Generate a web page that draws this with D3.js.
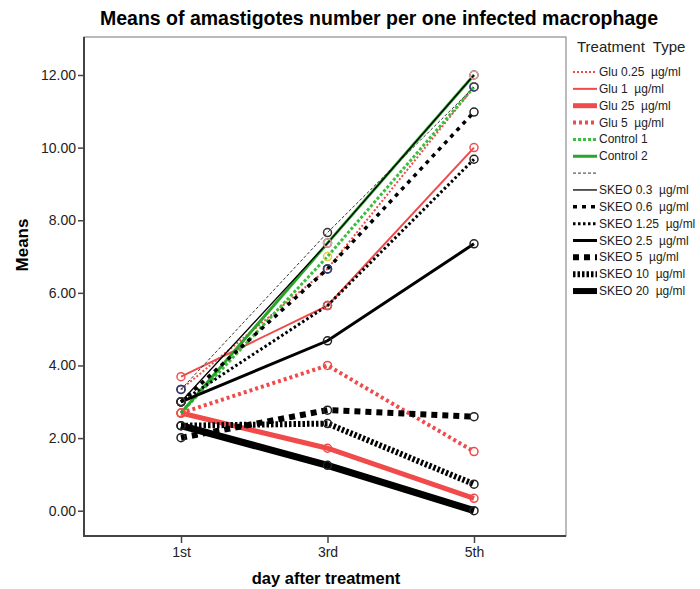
<!DOCTYPE html>
<html><head><meta charset="utf-8">
<script src="https://cdn.jsdelivr.net/npm/d3@7/dist/d3.min.js"></script>
<style>body{margin:0;background:#fff}svg{display:block;font-family:"Liberation Sans",Arial,sans-serif}text{white-space:pre}</style>
</head><body><svg id="c" width="700" height="589"></svg>
<script>
const days = ["1st", "3rd", "5th"];
const yTicks = [0, 2, 4, 6, 8, 10, 12];
const seriesNames = ["Glu 0.25  µg/ml","Glu 1  µg/ml","Glu 25  µg/ml","Glu 5  µg/ml","Control 1","Control 2","","SKEO 0.3  µg/ml","SKEO 0.6  µg/ml","SKEO 1.25  µg/ml","SKEO 2.5  µg/ml","SKEO 5  µg/ml","SKEO 10  µg/ml","SKEO 20  µg/ml"];
const glu025 = [3.34, 6.66, 11.67];
const glu1 = [3.69, 5.65, 10.0];
const glu25 = [2.69, 1.72, 0.34];
const glu5 = [2.69, 4.0, 1.63];
const control1 = [2.69, 7.0, 11.67];
const control2 = [2.69, 7.37, 12.0];
const blank = [3.34, 7.66, 11.67];
const skeo03 = [3.0, 7.37, 12.0];
const skeo06 = [3.0, 6.66, 10.98];
const skeo125 = [3.0, 5.65, 9.68];
const skeo25 = [3.0, 4.68, 7.35];
const skeo5 = [2.01, 2.77, 2.59];
const skeo10 = [2.34, 2.4, 0.73];
const skeo20 = [2.34, 1.25, 0.0];
const values = [glu025, glu1, glu25, glu5, control1, control2, blank, skeo03, skeo06, skeo125, skeo25, skeo5, skeo10, skeo20];

const styles = [
  {c:"#f04a4a", w:2, d:"2,2", m:"#2c3a80"},
  {c:"#f04a4a", w:2, d:null, m:"#f05050"},
  {c:"#f04a4a", w:5, d:null, m:"#f04a4a"},
  {c:"#f04a4a", w:4, d:"3,3", m:"#f04a4a"},
  {c:"#3cbf3c", w:3, d:"3,2", m:"#e0d040"},
  {c:"#2aa52a", w:3, d:null, m:"#f0a0a8"},
  {c:"#333", w:1, d:"3,2", m:"#333"},
  {c:"#000", w:1.3, d:null, m:"#333"},
  {c:"#000", w:3.5, d:"4,5", m:"#222"},
  {c:"#000", w:3, d:"2.5,2.5", m:"#222"},
  {c:"#000", w:3, d:null, m:"#222"},
  {c:"#000", w:6, d:"6,5", m:"#222"},
  {c:"#000", w:6, d:"2.5,2", m:"#222"},
  {c:"#000", w:7, d:null, m:"#222"}
];

const svg = d3.select("#c");
const L = 84, R = 566, T = 37, B = 536;
const x = d3.scalePoint().domain(days).range([181, 474]);
const y = d3.scaleLinear().domain([0, 12]).range([510.7, 75]);

svg.append("rect").attr("x", L).attr("y", T).attr("width", R - L).attr("height", B - T)
  .attr("fill", "none").attr("stroke", "#777").attr("stroke-width", 1);

const line = d3.line().x((d, i) => x(days[i])).y(d => y(d));
const g = svg.append("g");
values.forEach((v, i) => {
  const s = styles[i];
  g.append("path").attr("d", line(v)).attr("fill", "none").attr("stroke", s.c)
    .attr("stroke-width", s.w).attr("stroke-dasharray", s.d);
});
d3.range(values.length - 1, -1, -1).forEach(i => {
  const s = styles[i];
  g.selectAll(null).data(values[i]).enter().append("circle")
    .attr("cx", (d, j) => x(days[j])).attr("cy", d => y(d)).attr("r", 4)
    .attr("fill", "none").attr("stroke", s.m).attr("stroke-width", 1.5);
});

const ya = svg.append("g").attr("transform", `translate(${L},0)`)
  .call(d3.axisLeft(y).tickValues(yTicks).tickFormat(d3.format(".2f")).tickSize(6).tickPadding(2));
ya.select(".domain").remove();
ya.append("line").attr("x1", 0).attr("x2", 0).attr("y1", T).attr("y2", B).attr("stroke", "#444").attr("stroke-width", 2);
ya.selectAll(".tick line").attr("stroke", "#444").attr("stroke-width", 1.5);
ya.selectAll(".tick text").attr("font-size", 14).attr("fill", "#222").attr("font-family", "Liberation Sans, Arial, sans-serif");

const xa = svg.append("g").attr("transform", `translate(0,${B})`)
  .call(d3.axisBottom(x).tickSize(7).tickPadding(4));
xa.select(".domain").remove();
xa.append("line").attr("x1", L - 1).attr("x2", R).attr("y1", 0).attr("y2", 0).attr("stroke", "#444").attr("stroke-width", 2);
xa.selectAll(".tick line").attr("stroke", "#444").attr("stroke-width", 1.5);
xa.selectAll(".tick text").attr("font-size", 14).attr("fill", "#222").attr("font-family", "Liberation Sans, Arial, sans-serif");

svg.append("text").attr("x", 379).attr("y", 25).attr("text-anchor", "middle")
  .attr("font-size", 19.5).attr("font-weight", "bold").text("Means of amastigotes number per one infected macrophage");
svg.append("text").attr("x", 326).attr("y", 584).attr("text-anchor", "middle")
  .attr("font-size", 16.5).attr("font-weight", "bold").text("day after treatment");
svg.append("text").attr("transform", "translate(28,245) rotate(-90)").attr("text-anchor", "middle")
  .attr("font-size", 17).attr("font-weight", "bold").text("Means");

svg.append("text").attr("x", 577).attr("y", 52).attr("font-size", 15).attr("fill", "#222").text("Treatment  Type");
seriesNames.forEach((n, i) => {
  const s = styles[i];
  const yy = 72 + i * 16.85;
  svg.append("line").attr("x1", 573).attr("x2", 597).attr("y1", yy).attr("y2", yy)
    .attr("stroke", s.c).attr("stroke-width", Math.min(s.w, 6)).attr("stroke-dasharray", s.d);
  svg.append("text").attr("x", 599).attr("y", yy + 4).attr("font-size", 12).attr("fill", "#222").text(n);
});
</script></body></html>
